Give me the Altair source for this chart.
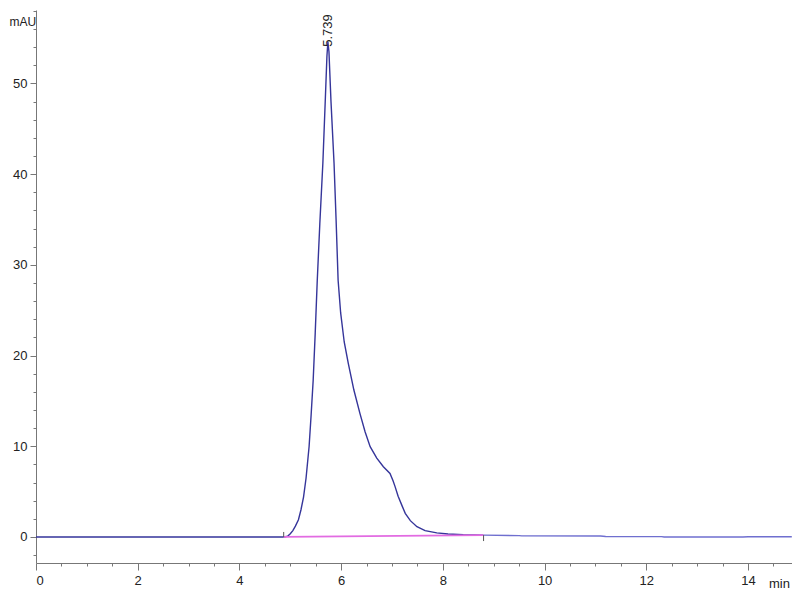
import altair as alt
import pandas as pd

# ---- data ----
time_main = [0.0, 4.85, 4.90, 4.95, 5.00, 5.05, 5.10, 5.16, 5.21, 5.26, 5.31, 5.37, 5.41,
             5.45, 5.49, 5.53, 5.58, 5.64, 5.69, 5.72, 5.739, 5.76, 5.80, 5.86, 5.90,
             5.94, 5.99, 6.06, 6.14, 6.25, 6.37, 6.47, 6.57, 6.70, 6.83, 6.96, 7.02,
             7.06, 7.12, 7.20, 7.26, 7.36, 7.49, 7.65, 7.88, 8.10, 8.40, 8.80]
signal_main = [0.0, 0.0, 0.02, 0.1, 0.35, 0.7, 1.2, 1.9, 3.0, 4.4, 6.5, 10.0, 13.5,
               17.3, 22.5, 28.3, 34.5, 41.2, 48.5, 53.0, 54.6, 53.5, 48.0, 41.2, 35.0,
               28.3, 24.7, 21.5, 19.15, 16.2, 13.6, 11.6, 9.96, 8.7, 7.75, 7.0, 6.2,
               5.55, 4.5, 3.4, 2.6, 1.8, 1.13, 0.7, 0.45, 0.33, 0.25, 0.2]
time_tail = [8.80, 9.50, 9.55, 11.10, 11.20, 12.30, 12.35, 13.90, 14.00, 14.86]
signal_tail = [0.2, 0.15, 0.12, 0.1, 0.05, 0.04, 0.0, 0.0, 0.02, 0.02]
time_base = [4.87, 8.80]
signal_base = [0.0, 0.2]
marker_time = [4.87, 8.80]
marker_lo = [0.0, -0.45]
marker_hi = [0.55, 0.2]
peak_time = [5.739]
peak_height = [54.6]
peak_label = ["5.739"]
x_major = [0, 2, 4, 6, 8, 10, 12, 14]
x_minor = [v / 2 for v in range(0, 30) if v % 4 != 0]
y_major = [0, 10, 20, 30, 40, 50]
y_minor = [v for v in range(-2, 59, 2) if v % 10 != 0]

FONT = "Liberation Sans, Arial, sans-serif"
xs = alt.Scale(domain=[0, 14.864], nice=False, zero=False)
ys = alt.Scale(domain=[-2.87, 58.1], nice=False, zero=False)

main_df = pd.DataFrame({"t": time_main, "v": signal_main})
tail_df = pd.DataFrame({"t": time_tail, "v": signal_tail})
base_df = pd.DataFrame({"t": time_base, "v": signal_base})
mark_df = pd.DataFrame({"t": marker_time, "lo": marker_lo, "hi": marker_hi})
peak_df = pd.DataFrame({"t": peak_time, "v": peak_height, "label": peak_label})

main = alt.Chart(main_df).mark_line(color="#35359a", strokeWidth=1.4).encode(
    x=alt.X("t:Q", scale=xs, axis=alt.Axis(
        orient="bottom", values=x_major, tickSize=7, labelPadding=4, format="d",
        title="min", titleX=743, titleY=20, titleAlign="center",
        titleBaseline="middle", titleFontWeight="normal", titleFontSize=13,
        titleFont=FONT, titleColor="#222")),
    y=alt.Y("v:Q", scale=ys, axis=alt.Axis(
        orient="left", values=y_major, tickSize=6, labelPadding=3, format="d",
        title="mAU", titleAngle=0, titleX=-27, titleY=11, titleAlign="left",
        titleBaseline="middle", titleFontWeight="normal", titleFontSize=12,
        titleFont=FONT, titleColor="#222")),
)

minor = alt.Chart(tail_df).mark_line(opacity=0).encode(
    x=alt.X("t:Q", scale=xs, axis=alt.Axis(
        orient="bottom", values=x_minor, tickSize=3, labels=False, domain=False, title=None)),
    y=alt.Y("v:Q", scale=ys, axis=alt.Axis(
        orient="left", values=y_minor, tickSize=3, labels=False, domain=False, title=None)),
)

tail = alt.Chart(tail_df).mark_line(color="#6f6fcf", strokeWidth=1.4).encode(
    x=alt.X("t:Q", scale=xs, axis=None),
    y=alt.Y("v:Q", scale=ys, axis=None),
)

base = alt.Chart(base_df).mark_line(color="#e26be2", strokeWidth=1.8).encode(
    x=alt.X("t:Q", scale=xs, axis=None),
    y=alt.Y("v:Q", scale=ys, axis=None),
)

markers = alt.Chart(mark_df).mark_rule(color="#555", strokeWidth=1).encode(
    x=alt.X("t:Q", scale=xs, axis=None),
    y=alt.Y("lo:Q", scale=ys, axis=None),
    y2="hi:Q",
)

label = alt.Chart(peak_df).mark_text(
    angle=270, align="left", baseline="middle", dx=-5, fontSize=13,
    font=FONT, color="#222"
).encode(
    x=alt.X("t:Q", scale=xs, axis=None),
    y=alt.Y("v:Q", scale=ys, axis=None),
    text="label:N",
)

chart = alt.layer(main, minor, tail, base, markers, label).resolve_axis(
    x="independent", y="independent"
).properties(
    width=756, height=553,
    autosize=alt.AutoSizeParams(type="none"),
    padding={"left": 28, "top": 2, "right": 0, "bottom": 27},
).configure_view(stroke=None).configure_axis(
    grid=False, labelFont=FONT, labelFontSize=13, labelColor="#222",
    tickColor="#777", domainColor="#777", domainWidth=1, tickWidth=1,
)

chart.save("out.html", embed_options={"renderer": "svg", "actions": False})
